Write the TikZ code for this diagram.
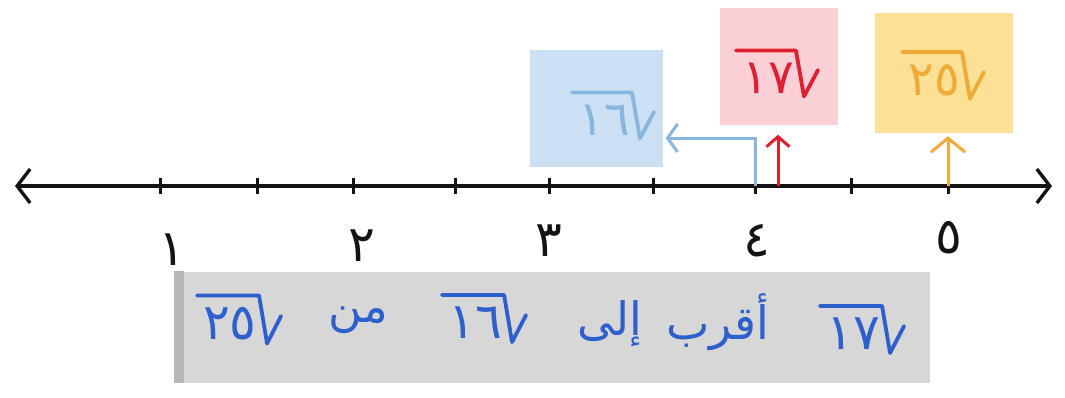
\documentclass[tikz,border=0pt]{standalone}
\usepackage{fontspec}
\usetikzlibrary{arrows.meta}
\TeXXeTstate=1
\newfontfamily\arabicfont[Script=Arabic]{DejaVu Sans}

\definecolor{axisblack}{RGB}{20,20,20}
\definecolor{cardblue}{RGB}{204,224,243}
\definecolor{inkblue}{RGB}{135,182,222}
\definecolor{cardred}{RGB}{250,208,214}
\definecolor{inkred}{RGB}{222,32,48}
\definecolor{cardorange}{RGB}{252,224,150}
\definecolor{inkorange}{RGB}{240,170,55}
\definecolor{cardgray}{RGB}{215,215,215}
\definecolor{edgegray}{RGB}{182,182,182}
\definecolor{inksentence}{RGB}{45,95,205}

% radical sign opening to the right (right-to-left mathematics),
% drawn over the digits held in node #1
\newcommand\rootover[2]{%
  \draw[rootstroke,#2]
    ([xshift=-6pt,yshift=12pt]#1.north west) --
    ([xshift=2pt,yshift=12pt]#1.north east) --
    ([xshift=10pt,yshift=-3pt]#1.south east) --
    ([xshift=24pt,yshift=8pt]#1.east);}

\begin{document}
\begin{tikzpicture}[x=1pt,y=-1pt,
  axisline/.style={line width=3.4pt, color=axisblack,
    {Straight Barb[length=13pt,width=34pt]}-{Straight Barb[length=13pt,width=34pt]}},
  axistick/.style={line width=3pt, color=axisblack},
  numlabel/.style={font=\arabicfont\fontsize{50}{56}\selectfont, inner sep=0, text=axisblack},
  card/.style={rectangle, inner sep=0},
  digits/.style={inner sep=0, font=\arabicfont\fontsize{48}{54}\selectfont},
  sdigits/.style={inner sep=0, text=inksentence, font=\arabicfont\fontsize{50}{56}\selectfont},
  sword/.style={inner sep=0, text=inksentence, font=\arabicfont\fontsize{46}{54}\selectfont},
  rootstroke/.style={line width=3.8pt, line cap=round, line join=round},
  pointer/.style={line width=3pt, -{Straight Barb[#1]}}]
\useasboundingbox (0,0) rectangle (1065,397);

% number line
\coordinate (lend) at (15,186);
\coordinate (rend) at (1052,186);
\draw[axisline] (lend) -- (rend);
\foreach \x [count=\i] in {160,257,353,455,549,653,755,851,948}
  \draw[axistick] (\x,178) coordinate (t\i) -- (\x,194);
\coordinate (four) at (755,186);
\coordinate (seventeen) at (778,186);
\coordinate (five) at (948,186);

% integer labels
\node[numlabel] (n1) at (172,250) {١};
\node[numlabel] (n2) at (362,246) {٢};
\node[numlabel] (n3) at (549,241) {٣};
\node[numlabel] (n4) at (757,241) {٤};
\node[numlabel] (n5) at (949,238) {٥};

% square-root cards
\node[card, fill=cardblue, minimum width=133pt, minimum height=117pt] (c16) at (596,108) {};
\node[card, fill=cardred, minimum width=118pt, minimum height=117pt] (c17) at (779,66) {};
\node[card, fill=cardorange, minimum width=138pt, minimum height=120pt] (c25) at (944,73) {};
\node[digits, text=inkblue] (d16) at (604,120) {١٦};
\node[digits, text=inkred] (d17) at (768,78) {١٧};
\node[digits, text=inkorange] (d25) at (934,80) {٢٥};
\rootover{d16}{inkblue}
\rootover{d17}{inkred}
\rootover{d25}{inkorange}

% pointers from the line to the cards
\coordinate (bend) at (755,138);
\draw[pointer={length=10pt,width=28pt}, inkblue] (four) -- (bend) -- ([xshift=3pt]c16.east |- bend);
\draw[pointer={length=10pt,width=23pt}, inkred] (seventeen) -- ([yshift=-10pt]c17.south -| seventeen);
\draw[pointer={length=14pt,width=34pt}, inkorange] (five) -- ([yshift=-3pt]c25.south -| five);

% conclusion, read from right to left
\node[card, fill=cardgray, minimum width=755pt, minimum height=111pt] (sent) at (552,327) {};
\fill[edgegray] (sent.north west) rectangle ([xshift=10pt]sent.south west);
\node[sdigits] (s17) at (853,334) {١٧};
\node[sword] (saqrab) at (718,322) {\beginR أقرب\endR};
\node[sword] (sila) at (610,324) {\beginR إلى\endR};
\node[sdigits] (s16) at (475,323) {١٦};
\node[sword] (smin) at (358,320) {\beginR من\endR};
\node[sdigits] (s25) at (230,324) {٢٥};
\rootover{s17}{inksentence}
\rootover{s16}{inksentence}
\rootover{s25}{inksentence}
\end{tikzpicture}
\end{document}
